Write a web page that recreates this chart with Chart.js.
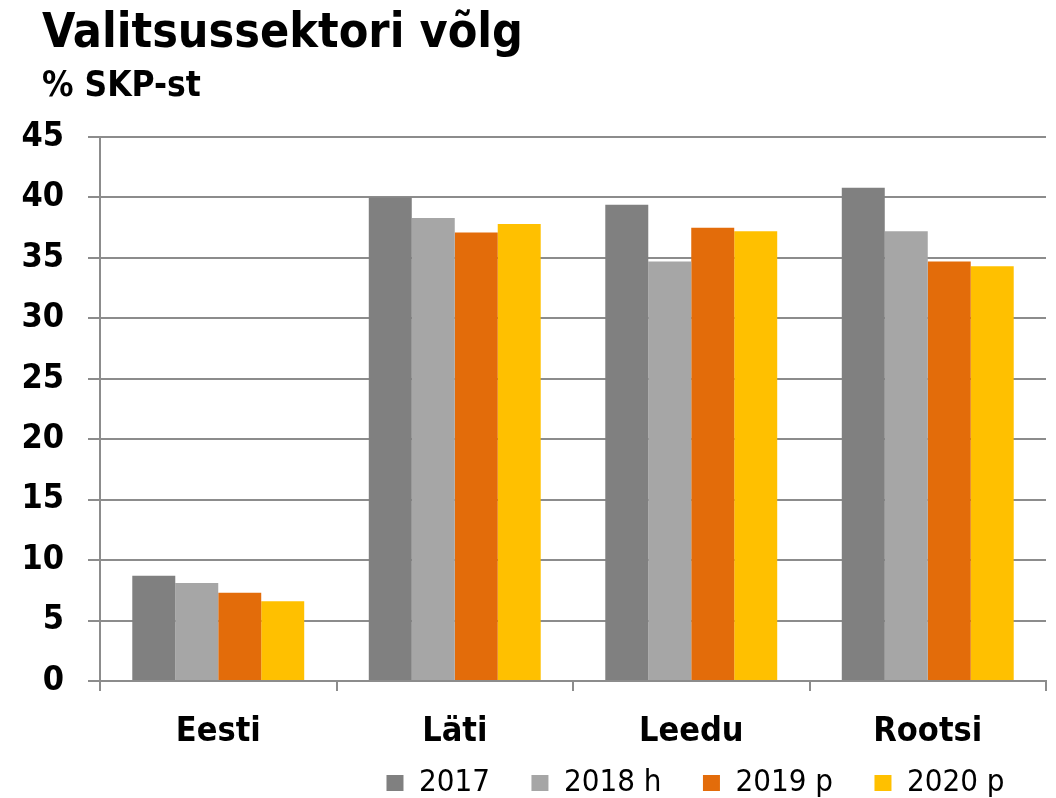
<!DOCTYPE html>
<html>
<head>
<meta charset="utf-8">
<script src="https://cdn.jsdelivr.net/npm/chart.js@4"></script>
<style>
  html, body { margin: 0; padding: 0; background: #fff; }
  #wrap { position: relative; width: 1056px; height: 798px; overflow: hidden; }
  canvas { position: absolute; left: 0; top: 0; }
  .ttl { position: absolute; left: 42px; font-family: "DejaVu Sans Condensed", "DejaVu Sans", sans-serif; font-weight: bold; color: #000; white-space: nowrap; }
  #title { top: 6px; font-size: 48px; line-height: 48px; }
  #subtitle { top: 67px; font-size: 35px; line-height: 35px; }
</style>
</head>
<body>
<div id="wrap">
  <canvas id="c" width="1056" height="798"></canvas>
  <div id="title" class="ttl">Valitsussektori võlg</div>
  <div id="subtitle" class="ttl">% SKP-st</div>
</div>
<script>
const categories = ["Eesti", "Läti", "Leedu", "Rootsi"];
const seriesNames = ["2017", "2018 h", "2019 p", "2020 p"];
const values2017 = [8.7, 40.0, 39.4, 40.8];
const values2018 = [8.1, 38.3, 34.7, 37.2];
const values2019 = [7.3, 37.1, 37.5, 34.7];
const values2020 = [6.6, 37.8, 37.2, 34.3];
const seriesColors = ["#808080", "#A6A6A6", "#E36C0A", "#FFC000"];
const yTicks = [0, 5, 10, 15, 20, 25, 30, 35, 40, 45];

const allValues = [values2017, values2018, values2019, values2020];
const gridColor = "#8c8c8c";
const FONT = "'DejaVu Sans Condensed', 'DejaVu Sans', sans-serif";

const legendShift = {
  id: "legendShift",
  afterLayout(chart) {
    const lg = chart.legend;
    if (lg) { lg.top -= 25; lg.bottom -= 25; }
  }
};

new Chart(document.getElementById("c"), {
  type: "bar",
  data: {
    labels: categories,
    datasets: seriesNames.map((n, i) => ({
      label: n,
      data: allValues[i],
      backgroundColor: seriesColors[i],
      borderWidth: 0,
      categoryPercentage: 0.727,
      barPercentage: 1.0
    }))
  },
  plugins: [legendShift],
  options: {
    responsive: false,
    animation: false,
    devicePixelRatio: 1,
    layout: { padding: { top: 137, right: 10, left: 0, bottom: -35.5 } },
    plugins: {
      title: { display: false },
      tooltip: { enabled: false },
      legend: {
        position: "bottom",
        align: "end",
        labels: {
          boxWidth: 17,
          boxHeight: 16,
          padding: 41.5,
          color: "#000",
          font: { family: FONT, size: 31 }
        }
      }
    },
    scales: {
      x: {
        grid: { display: true, drawOnChartArea: false, drawTicks: true, tickLength: 10, color: gridColor, lineWidth: 2, offset: true },
        border: { display: true, color: gridColor, width: 2 },
        ticks: { color: "#000", padding: 21, font: { family: FONT, size: 34, weight: "bold" } },
        afterFit: (s) => { s.height = 70; }
      },
      y: {
        min: 0,
        max: 45,
        afterBuildTicks: (s) => { s.ticks = yTicks.map(v => ({ value: v })); },
        grid: { color: gridColor, lineWidth: 2, drawTicks: true, tickLength: 12 },
        border: { display: true, color: gridColor, width: 2 },
        ticks: { color: "#000", padding: 24, font: { family: FONT, size: 34, weight: "bold" } },
        afterFit: (s) => { s.width = 100; }
      }
    }
  }
});
</script>
</body>
</html>
